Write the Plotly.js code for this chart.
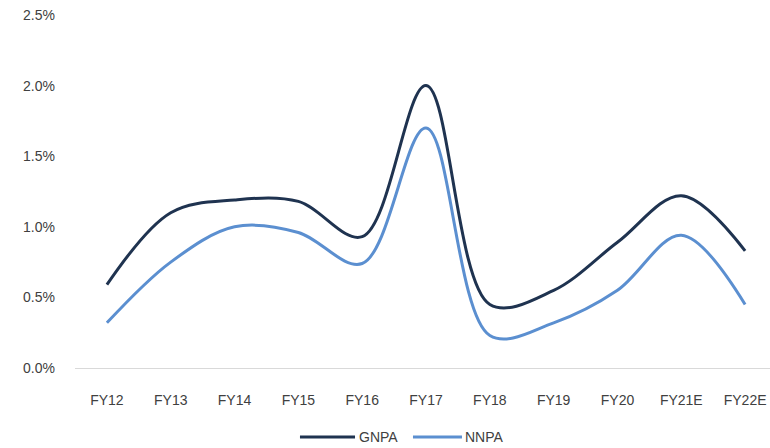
<!DOCTYPE html>
<html>
<head>
<meta charset="utf-8">
<script src="https://cdn.plot.ly/plotly-3.0.1.min.js"></script>
<style>
  html, body { margin: 0; padding: 0; background: #fff; }
  #chart { width: 770px; height: 448px; }
</style>
</head>
<body>
<div id="chart"></div>
<script>
// Fiscal years on the category axis
const years = ["FY12", "FY13", "FY14", "FY15", "FY16", "FY17", "FY18", "FY19", "FY20", "FY21E", "FY22E"];
// Gross and net NPA ratios (fractions, shown as %)
const gnpa = [0.0059, 0.0110, 0.0119, 0.0118, 0.0093, 0.0200, 0.0045, 0.0055, 0.0089, 0.0122, 0.0083];
const nnpa = [0.0032, 0.0075, 0.0100, 0.0096, 0.0074, 0.0170, 0.0023, 0.0032, 0.0055, 0.0094, 0.0045];
const yTicks = [0, 0.005, 0.010, 0.015, 0.020, 0.025];
const seriesNames = ["GNPA", "NNPA"];
const seriesColors = ["#1f3350", "#5b8fd0"];

const font = "Liberation Sans, Arial, sans-serif";
const textColor = "#404040";

const traces = [
  {
    x: years, y: gnpa, name: seriesNames[0], type: "scatter", mode: "lines",
    line: { color: seriesColors[0], width: 3, shape: "spline", smoothing: 1 }
  },
  {
    x: years, y: nnpa, name: seriesNames[1], type: "scatter", mode: "lines",
    line: { color: seriesColors[1], width: 3, shape: "spline", smoothing: 1 }
  }
];

// Legend drawn below the axis with long key lines
const legendY = -0.1955;
const keys = [
  { x0: 0.3237, x1: 0.4029, tx: 0.4058 },
  { x0: 0.4863, x1: 0.5568, tx: 0.5583 }
];
const shapes = keys.map((k, i) => ({
  type: "line", xref: "paper", yref: "paper",
  x0: k.x0, x1: k.x1, y0: legendY, y1: legendY,
  line: { color: seriesColors[i], width: 3 }
}));
const annotations = keys.map((k, i) => ({
  xref: "paper", yref: "paper", x: k.tx, y: legendY,
  xanchor: "left", yanchor: "middle", showarrow: false,
  text: seriesNames[i],
  font: { family: font, size: 14, color: textColor }
}));

const layout = {
  width: 770, height: 448,
  margin: { l: 75, r: 0, t: 15, b: 80 },
  paper_bgcolor: "#fff", plot_bgcolor: "#fff",
  font: { family: font, size: 14, color: textColor },
  showlegend: false,
  shapes: shapes,
  annotations: annotations,
  xaxis: {
    type: "category", range: [-0.5, 10.39],
    showgrid: false, zeroline: false,
    showline: true, linecolor: "#d9d9d9", linewidth: 1,
    ticks: "", ticklabelstandoff: 19,
    tickfont: { family: font, size: 14, color: textColor }
  },
  yaxis: {
    range: [0, 0.025], tickvals: yTicks, tickformat: ".1%",
    showgrid: false, zeroline: false, showline: false,
    ticks: "", ticklabelstandoff: 19,
    tickfont: { family: font, size: 14, color: textColor }
  }
};

Plotly.newPlot("chart", traces, layout, { displayModeBar: false, staticPlot: true });
</script>
</body>
</html>
